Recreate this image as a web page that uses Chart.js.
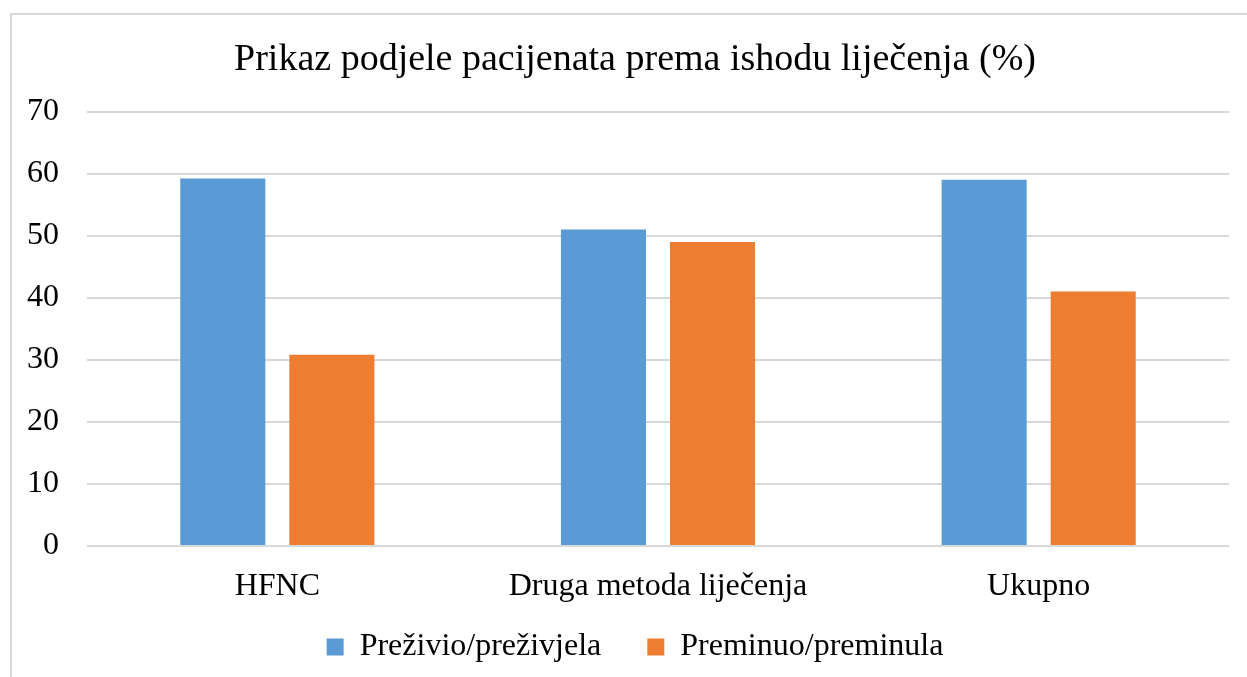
<!DOCTYPE html>
<html>
<head>
<meta charset="utf-8">
<script src="https://cdn.jsdelivr.net/npm/chart.js@4"></script>
<style>
  html, body { margin: 0; padding: 0; background: #fff; overflow: hidden; }
  #frame { position: absolute; left: 10px; top: 13px; width: 1250px; height: 680px; border: 2px solid #d9d9d9; box-sizing: border-box; }
  #wrap { position: absolute; left: 0; top: 0; width: 1288px; height: 673px; }
</style>
</head>
<body>
<div id="frame"></div>
<div id="wrap"><canvas id="myChart"></canvas></div>
<script>
'use strict';

const categories = ['HFNC', 'Druga metoda liječenja', 'Ukupno'];
const survived = [59.2, 51, 59];
const died = [30.8, 49, 41];
const seriesNames = ['Preživio/preživjela', 'Preminuo/preminula'];
const yTicks = [0, 10, 20, 30, 40, 50, 60, 70];

const serif = "'Liberation Serif', 'Times New Roman', serif";
Chart.defaults.font.family = serif;
Chart.defaults.color = '#000';

const ctx = document.getElementById('myChart').getContext('2d');

new Chart(ctx, {
    type: 'bar',
    data: {
        labels: categories,
        datasets: [
            {
                label: seriesNames[0],
                data: survived,
                backgroundColor: '#5b9bd5',
                categoryPercentage: 0.573,
                barPercentage: 0.78,
            },
            {
                label: seriesNames[1],
                data: died,
                backgroundColor: '#ed7d31',
                categoryPercentage: 0.573,
                barPercentage: 0.78,
            },
        ]
    },
    options: {
        responsive: true,
        maintainAspectRatio: false,
        animation: false,
        layout: {
            padding: { left: 0, right: 18, top: 0, bottom: 0 }
        },
        plugins: {
            title: {
                display: true,
                text: 'Prikaz podjele pacijenata prema ishodu liječenja (%)',
                font: { size: 38, weight: 'normal' },
                padding: { top: 37, bottom: 29 },
                color: '#000'
            },
            legend: {
                position: 'bottom',
                labels: {
                    boxWidth: 17,
                    boxHeight: 17,
                    padding: 46,
                    font: { size: 32 },
                    color: '#000'
                }
            },
            tooltip: { enabled: false }
        },
        scales: {
            x: {
                afterFit: scale => { scale.height = 39; },
                grid: { display: false },
                border: { display: false },
                // mirror keeps the labels from being clipped to the short axis box
                ticks: { font: { size: 32 }, mirror: true, padding: -60, color: '#000' }
            },
            y: {
                min: 0,
                max: 70,
                afterFit: scale => { scale.width = 87; },
                afterBuildTicks: scale => { scale.ticks = yTicks.map(v => ({ value: v })); },
                grid: { color: '#d9d9d9', lineWidth: 2, drawTicks: false },
                border: { display: false },
                ticks: { font: { size: 32 }, padding: 28, color: '#000' }
            },
            // empty spacer on the right so title and legend sit centred like the original
            spacer: {
                position: 'right',
                min: 0,
                max: 70,
                afterFit: scale => { scale.width = 41; },
                grid: { display: false },
                border: { display: false },
                ticks: { display: false }
            }
        }
    }
});
</script>
</body>
</html>
